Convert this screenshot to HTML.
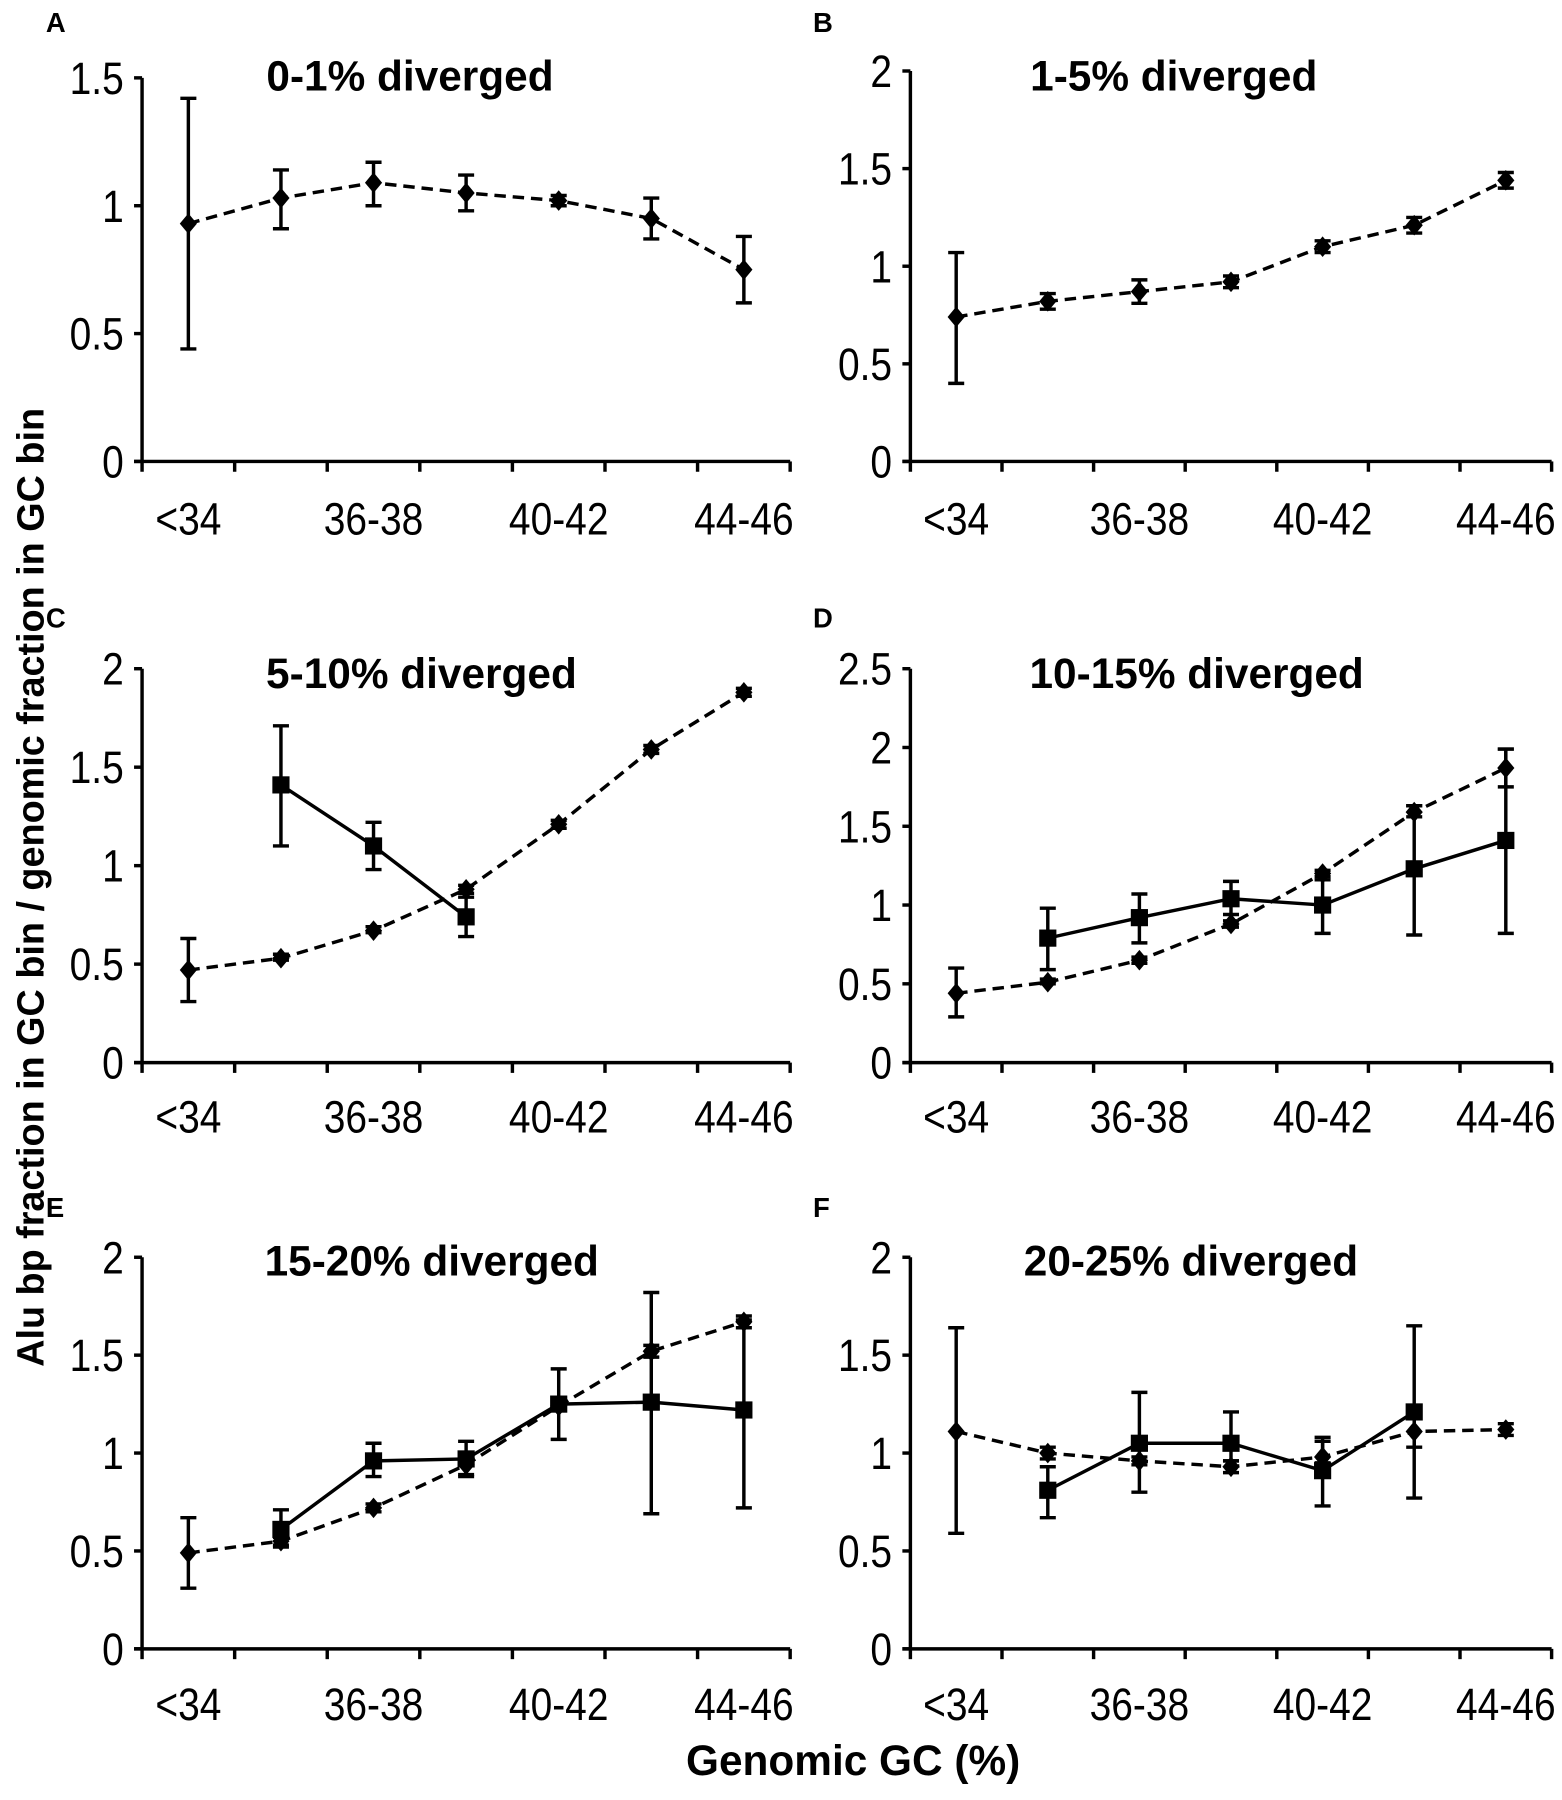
<!DOCTYPE html>
<html><head><meta charset="utf-8"><style>
html,body{margin:0;padding:0;background:#fff;}
svg{display:block;}
text{font-family:"Liberation Sans",Arial,sans-serif;fill:#000;}
</style></head><body>
<svg id="fig" xmlns="http://www.w3.org/2000/svg" width="1562" height="1800" viewBox="0 0 1364 1572">
<text transform="translate(38,775) rotate(-90)" text-anchor="middle" font-size="33" font-weight="bold">Alu bp fraction in GC bin / genomic fraction in GC bin</text>
<text x="745" y="1550" text-anchor="middle" font-size="37" font-weight="bold">Genomic GC (%)</text>
</svg>
<script>
// Categories (7 GC bins); only some are labeled
const categories = ["<34","34-36","36-38","38-40","40-42","42-44","44-46"];
const tickLabelsX = ["<34","","36-38","","40-42","","44-46"];
// Panel titles and y tick labels
const titles = ["0-1% diverged","1-5% diverged","5-10% diverged","10-15% diverged","15-20% diverged","20-25% diverged"];
const letters = ["A","B","C","D","E","F"];
const yMaxes = [1.5,2,2,2.5,2,2];
const yTickLabelsA = ["0","0.5","1","1.5"];
const yTickLabelsB = ["0","0.5","1","1.5","2"];
const yTickLabelsD = ["0","0.5","1","1.5","2","2.5"];
// Diamond (dashed) series values and error ranges
const diaA = [0.93,1.03,1.09,1.05,1.02,0.95,0.75];
const diaALo = [0.44,0.91,1.00,0.98,1.00,0.87,0.62];
const diaAHi = [1.42,1.14,1.17,1.12,1.04,1.03,0.88];
const diaB = [0.74,0.82,0.87,0.92,1.10,1.21,1.44];
const diaBLo = [0.40,0.78,0.81,0.89,1.07,1.17,1.40];
const diaBHi = [1.07,0.86,0.93,0.95,1.13,1.25,1.48];
const diaC = [0.47,0.53,0.67,0.88,1.21,1.59,1.88];
const diaCLo = [0.31,0.52,0.66,0.86,1.19,1.57,1.86];
const diaCHi = [0.63,0.55,0.69,0.90,1.23,1.61,1.90];
const diaD = [0.44,0.51,0.65,0.88,1.20,1.59,1.87];
const diaDLo = [0.29,0.50,0.63,0.86,1.18,1.56,1.75];
const diaDHi = [0.60,0.53,0.67,0.90,1.22,1.63,1.99];
const diaE = [0.49,0.55,0.72,0.94,1.24,1.52,1.67];
const diaELo = [0.31,0.53,0.70,0.88,1.22,1.49,1.64];
const diaEHi = [0.67,0.57,0.74,1.00,1.26,1.55,1.70];
const diaF = [1.11,1.00,0.96,0.93,0.98,1.11,1.12];
const diaFLo = [0.59,0.97,0.94,0.90,0.95,1.03,1.09];
const diaFHi = [1.64,1.03,0.98,0.96,1.08,1.19,1.15];
// Square (solid) series values and error ranges (null = no point)
const sqC = [null,1.41,1.10,0.74,null,null,null];
const sqCLo = [null,1.10,0.98,0.64,null,null,null];
const sqCHi = [null,1.71,1.22,0.84,null,null,null];
const sqD = [null,0.79,0.92,1.04,1.00,1.23,1.41];
const sqDLo = [null,0.59,0.76,0.94,0.82,0.81,0.82];
const sqDHi = [null,0.98,1.07,1.15,1.16,1.63,1.99];
const sqE = [null,0.61,0.96,0.97,1.25,1.26,1.22];
const sqELo = [null,0.52,0.88,0.89,1.07,0.69,0.72];
const sqEHi = [null,0.71,1.05,1.06,1.43,1.82,1.68];
const sqF = [null,0.81,1.05,1.05,0.91,1.21,null];
const sqFLo = [null,0.67,0.80,0.96,0.73,0.77,null];
const sqFHi = [null,0.93,1.31,1.21,1.06,1.65,null];

const svg = document.getElementById('fig');
const NS = 'http://www.w3.org/2000/svg';
function mk(tag, attrs, parent){const e=document.createElementNS(NS,tag);for(const k in attrs)e.setAttribute(k,attrs[k]);(parent||svg).appendChild(e);return e;}

const layouts = [
 {x0:124,x1:690,yTop:68,yBot:403,letterX:40,letterY:28,titleX:358,titleY:79,labY:467,ticks:yTickLabelsA},
 {x0:795,x1:1355,yTop:62,yBot:403,letterX:710,letterY:28,titleX:1025,titleY:79,labY:467,ticks:yTickLabelsB},
 {x0:124,x1:690,yTop:584,yBot:928,letterX:40,letterY:548,titleX:368,titleY:601,labY:989,ticks:yTickLabelsB},
 {x0:795,x1:1355,yTop:584,yBot:928,letterX:710,letterY:548,titleX:1045,titleY:601,labY:989,ticks:yTickLabelsD},
 {x0:124,x1:690,yTop:1098,yBot:1440,letterX:40,letterY:1063,titleX:377,titleY:1114,labY:1502,ticks:yTickLabelsB},
 {x0:795,x1:1355,yTop:1098,yBot:1440,letterX:710,letterY:1063,titleX:1040,titleY:1114,labY:1502,ticks:yTickLabelsB}
];
const dias = [[diaA,diaALo,diaAHi],[diaB,diaBLo,diaBHi],[diaC,diaCLo,diaCHi],[diaD,diaDLo,diaDHi],[diaE,diaELo,diaEHi],[diaF,diaFLo,diaFHi]];
const sqs = [null,null,[sqC,sqCLo,sqCHi],[sqD,sqDLo,sqDHi],[sqE,sqELo,sqEHi],[sqF,sqFLo,sqFHi]];

layouts.forEach((L,p)=>{
  const g = mk('g',{});
  
  
  const ymax = yMaxes[p];
  const yS = v => L.yBot - (v/ymax)*(L.yBot-L.yTop);
  const bw = (L.x1-L.x0)/categories.length;
  const xS = i => L.x0 + bw*(i+0.5);
  const lt = mk('text',{x:L.letterX,y:L.letterY,'font-size':24,'font-weight':'bold'},g); lt.textContent=letters[p];
  
  
  const tt = mk('text',{x:L.titleX,y:L.titleY,'font-size':37,'font-weight':'bold','text-anchor':'middle'},g); tt.textContent=titles[p];
  
  
  const ya = mk('line',{x1:L.x0,y1:L.yTop,x2:L.x0,y2:L.yBot,stroke:'#000','stroke-width':3},g);
  
  
  const xa = mk('line',{x1:L.x0-7,y1:L.yBot,x2:L.x1,y2:L.yBot,stroke:'#000','stroke-width':3},g);
  
  
  L.ticks.forEach(t=>{
    const y = yS(parseFloat(t));
    mk('line',{x1:L.x0-7,y1:y,x2:L.x0,y2:y,stroke:'#000','stroke-width':3},g);
    const tx = mk('text',{transform:`translate(${L.x0-16},${y+14}) scale(0.85,1)`,'font-size':40,'text-anchor':'end'},g);
    tx.textContent=t;
    
    
  });
  for(let i=0;i<=categories.length;i++){
    const x=L.x0+bw*i;
    mk('line',{x1:x,y1:L.yBot,x2:x,y2:L.yBot+9,stroke:'#000','stroke-width':3},g);
  }
  tickLabelsX.forEach((t,i)=>{
    if(!t) return;
    const tx = mk('text',{transform:`translate(${xS(i)},${L.labY}) scale(0.85,1)`,'font-size':40,'text-anchor':'middle'},g);
    tx.textContent=t;
    
    
  });
  function series(arr, dashed, square, name){
    const [v,lo,hi]=arr;
    const pts=[];
    v.forEach((val,i)=>{ if(val!==null) pts.push([xS(i),yS(val)]); });
    const pl = mk('polyline',{points:pts.map(q=>q.join(',')).join(' '),fill:'none',stroke:'#000','stroke-width':3,'stroke-dasharray':dashed?'10,6':'none'},g);
    
    
    v.forEach((val,i)=>{
      if(val===null) return;
      const x=xS(i), yl=yS(lo[i]), yh=yS(hi[i]);
      mk('line',{x1:x,y1:yl,x2:x,y2:yh,stroke:'#000','stroke-width':3},g);
      mk('line',{x1:x-7,y1:yl,x2:x+7,y2:yl,stroke:'#000','stroke-width':3},g);
      mk('line',{x1:x-7,y1:yh,x2:x+7,y2:yh,stroke:'#000','stroke-width':3},g);
      const y=yS(val);
      let m;
      if(square) m = mk('rect',{x:x-7.5,y:y-7.5,width:15,height:15,fill:'#000'},g);
      else m = mk('polygon',{points:`${x},${y-9} ${x+7.5},${y} ${x},${y+9} ${x-7.5},${y}`,fill:'#000'},g);
      
      
    });
  }
  series(dias[p], true, false, 'diamond-series');
  if(sqs[p]) series(sqs[p], false, true, 'square-series');
});
</script>
</body></html>
